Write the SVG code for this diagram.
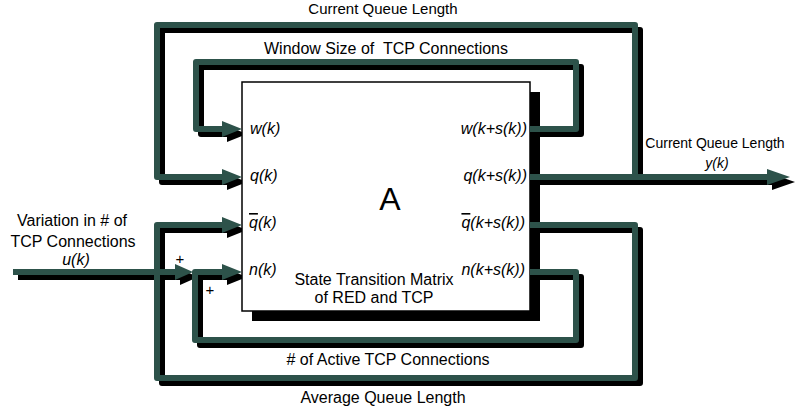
<svg xmlns="http://www.w3.org/2000/svg" width="808" height="412" viewBox="0 0 808 412">
<style>
text{font-family:"Liberation Sans",Arial,sans-serif;fill:#000}
.lbl{font-size:16px}
.it{font-size:16px;font-style:italic}
.ln{fill:none;stroke:#2d524a;stroke-width:6;stroke-linejoin:round}
.sh{fill:none;stroke:#000;stroke-width:6;stroke-linejoin:round}
.ah{fill:#2d524a}
.ahs{fill:#000}
.ov{text-decoration:overline}
</style>
<rect width="808" height="412" fill="#fff"/>
<g id="node-A">
<rect x="252" y="92" width="288" height="229" fill="#000"/>
<rect x="242" y="82" width="288" height="229" fill="#fff" stroke="#000" stroke-width="1.5"/>
<text x="390" y="210" style="font-size:32px" text-anchor="middle">A</text>
<text class="lbl" x="374" y="285" text-anchor="middle">State Transition Matrix</text>
<text class="lbl" x="374" y="303" text-anchor="middle">of RED and TCP</text>
<text class="it" x="250" y="134">w(k)</text>
<text class="it" x="250" y="181">q(k)</text>
<text class="it" x="249" y="228"><tspan class="ov">q</tspan>(k)</text>
<text class="it" x="249" y="275">n(k)</text>
<text class="it" x="527" y="134" text-anchor="end">w(k+s(k))</text>
<text class="it" x="527" y="181" text-anchor="end">q(k+s(k))</text>
<text class="it" x="525" y="228" text-anchor="end"><tspan class="ov">q</tspan>(k+s(k))</text>
<text class="it" x="525" y="275" text-anchor="end">n(k+s(k))</text>
</g>
<g id="connectors">
<g id="shadows" transform="translate(5,5)">
<path class="sh" d="M635,177 V25 H157 V177 H222"/>
<path class="sh" d="M530,177 H767"/>
<path class="sh" d="M530,129 H576 V62 H196 V129 H222"/>
<path class="sh" d="M530,225 H635 V378 H157 V225 H222"/>
<path class="sh" d="M530,272 H576 V340 H195 V272 H222"/>
<path class="sh" d="M13,272 H175"/>
<polygon class="ahs" points="767,169 790,177 767,185"/>
<polygon class="ahs" points="175,264 193,272 175,280"/>
</g>
<polygon class="ahs" points="227,126 242,132 242,136 227,142"/>
<polygon class="ahs" points="227,174 242,180 242,184 227,190"/>
<polygon class="ahs" points="227,222 242,228 242,232 227,238"/>
<polygon class="ahs" points="227,269 242,275 242,279 227,285"/>
<path id="cql-loop" class="ln" d="M635,177 V25 H157 V177 H222"/>
<path id="output" class="ln" d="M530,177 H767"/>
<path id="window-loop" class="ln" d="M530,129 H576 V62 H196 V129 H222"/>
<path id="avg-loop" class="ln" d="M530,225 H635 V378 H157 V225 H222"/>
<path id="n-loop" class="ln" d="M530,272 H576 V340 H195 V272 H222"/>
<path id="u-input" class="ln" d="M13,272 H175"/>
<polygon class="ah" points="767,169 790,177 767,185"/>
<polygon class="ah" points="175,264 193,272 175,280"/>
<polygon class="ah" points="222,121 242,129 222,137"/>
<polygon class="ah" points="222,169 242,177 222,185"/>
<polygon class="ah" points="222,217 242,225 222,233"/>
<polygon class="ah" points="222,264 242,272 222,280"/>
</g>
<g id="labels">
<text x="383" y="14" text-anchor="middle" style="font-size:15px">Current Queue Length</text>
<text class="lbl" x="386" y="54" text-anchor="middle" xml:space="preserve">Window Size of  TCP Connections</text>
<text x="715" y="148" text-anchor="middle" style="font-size:14px">Current Queue Length</text>
<text class="it" x="717" y="168" text-anchor="middle" style="font-size:14px">y(k)</text>
<text class="lbl" x="72" y="226" text-anchor="middle">Variation in # of</text>
<text class="lbl" x="73" y="247" text-anchor="middle">TCP Connections</text>
<text class="it" x="76" y="265" text-anchor="middle">u(k)</text>
<text x="180" y="264" text-anchor="middle" style="font-size:15px">+</text>
<text x="210" y="295" text-anchor="middle" style="font-size:15px">+</text>
<text class="lbl" x="388" y="365" text-anchor="middle"># of Active TCP Connections</text>
<text class="lbl" x="383" y="403" text-anchor="middle">Average Queue Length</text>
</g>
</svg>
